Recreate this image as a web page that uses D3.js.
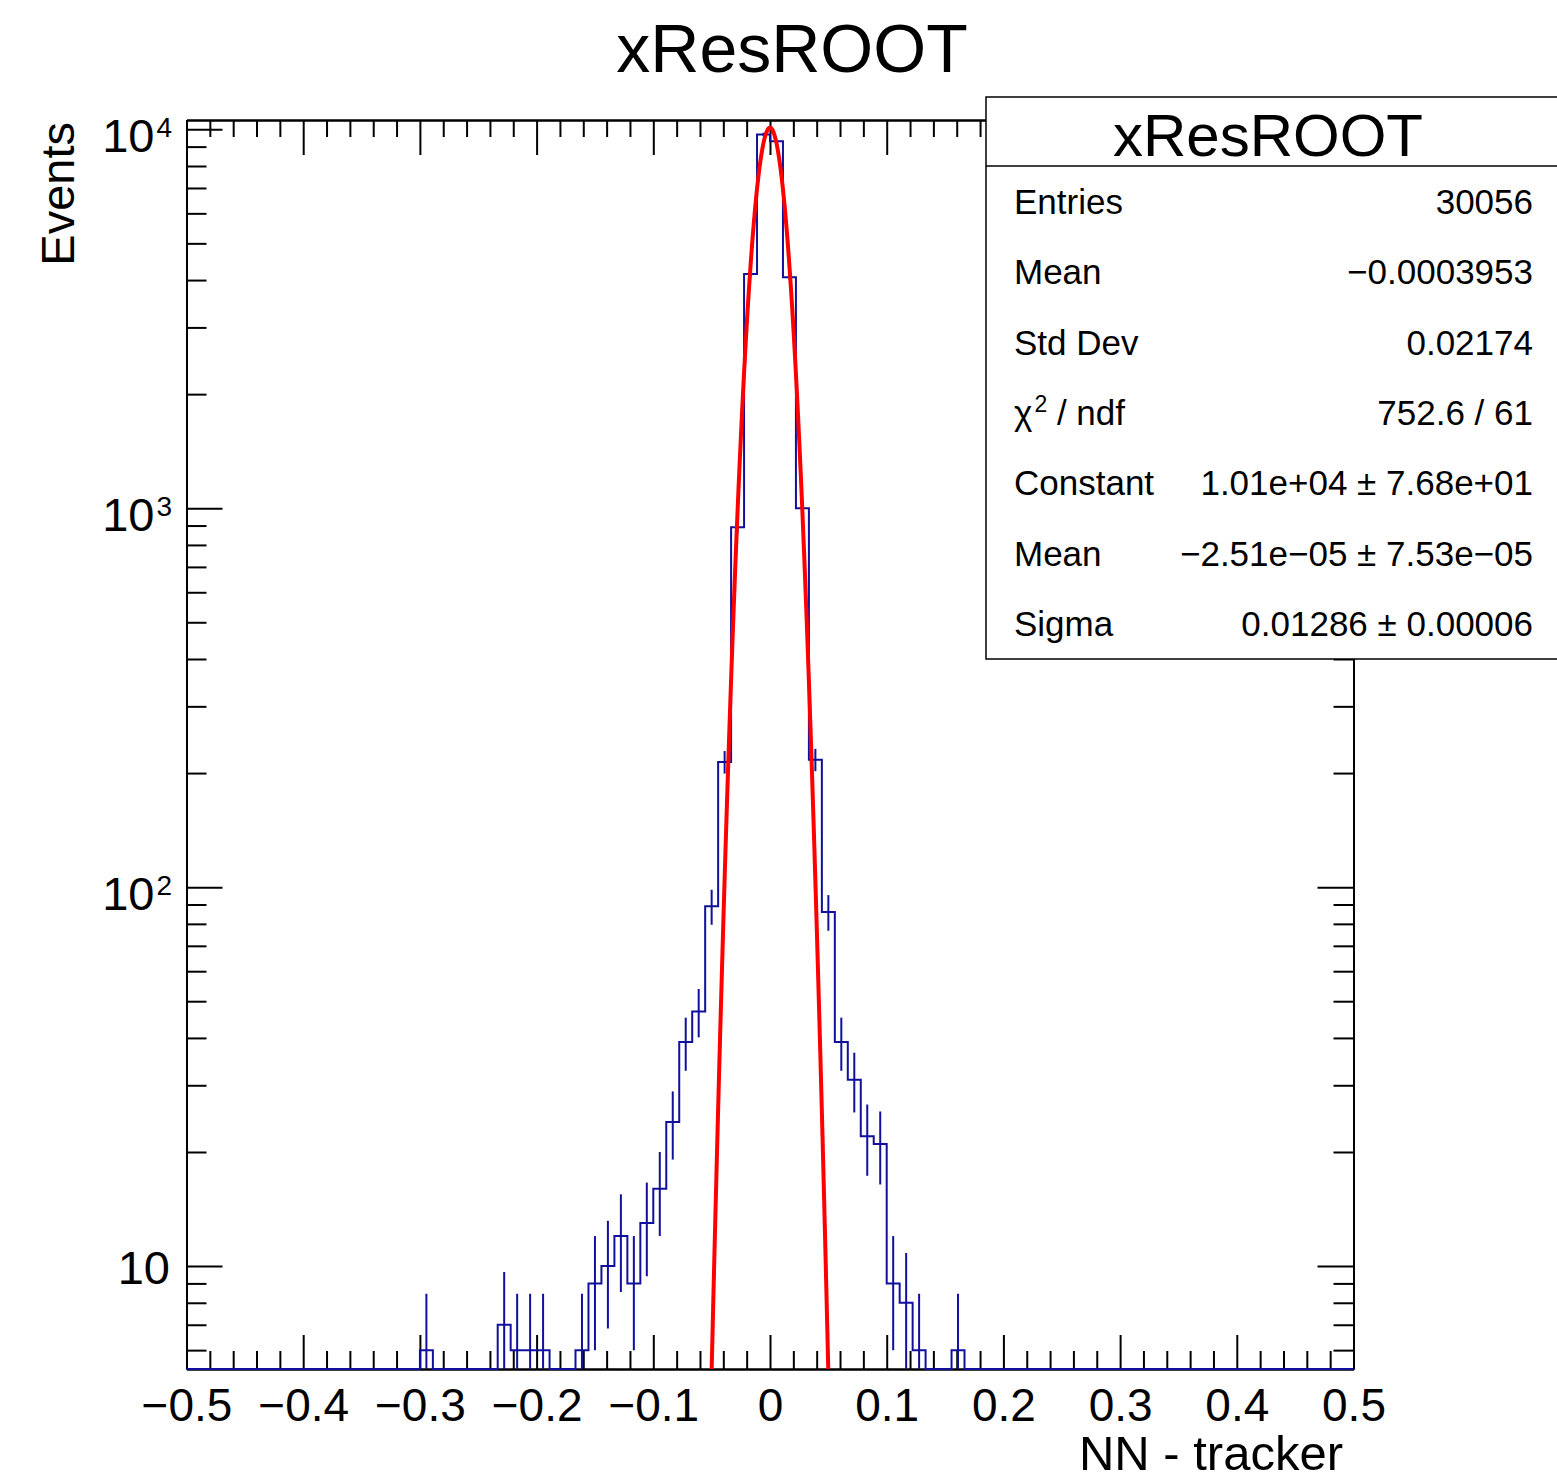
<!DOCTYPE html>
<html>
<head>
<meta charset="utf-8">
<script src="https://cdn.jsdelivr.net/npm/d3@7"></script>
<style>
  body { margin: 0; background: #fff; }
  svg { display: block; }
  text { font-family: "Liberation Sans", Arial, Helvetica, sans-serif; fill: #000; }
</style>
</head>
<body>
<svg id="chart" width="1557" height="1481"></svg>
<script>
// Histogram binning: 90 equal bins on [-0.5, 0.5]
const binLow = -0.5;
const binHigh = 0.5;
const nBins = 90;

// Bin contents (events per bin), bin 0 = leftmost
const counts = [
  0, 0, 0, 0, 0, 0, 0, 0, 0, 0,
  0, 0, 0, 0, 0, 0, 0, 0, 6, 0,
  0, 0, 0, 0, 7, 6, 6, 6, 0, 0,
  6, 9, 10, 12, 9, 13, 16, 24, 39, 47,
  89, 214, 891, 4150, 9690, 9300, 4070, 1000, 217, 86,
  39, 31, 22, 21, 9, 8, 6, 0, 0, 6,
  0, 0, 0, 0, 0, 0, 0, 0, 0, 0,
  0, 0, 0, 0, 0, 0, 0, 0, 0, 0,
  0, 0, 0, 0, 0, 0, 0, 0, 0, 0
];

// Gaussian fit result
const fitConstant = 1.01e4;
const fitMean = -2.51e-5;
const fitSigma = 0.01286;
const fitNpx = 1000;

// Axis ranges and tick labels
const yMin = 5.35;
const yMax = 10580;
const xMajorTicks = [-0.5, -0.4, -0.3, -0.2, -0.1, 0, 0.1, 0.2, 0.3, 0.4, 0.5];
const xTickLabels = ["\u22120.5", "\u22120.4", "\u22120.3", "\u22120.2", "\u22120.1", "0", "0.1", "0.2", "0.3", "0.4", "0.5"];
const yDecades = [10, 100, 1000, 10000];
const yDecadeExponents = ["", "2", "3", "4"];

// Statistics box
const statsTitle = "xResROOT";
const statsLabels = ["Entries", "Mean", "Std Dev", "\u03c7^2 / ndf", "Constant", "Mean", "Sigma"];
const statsValues = ["30056", "\u22120.0003953", "0.02174", "752.6 / 61",
  "1.01e+04 \u00b1 7.68e+01", "\u22122.51e\u221205 \u00b1 7.53e\u221205", "0.01286 \u00b1 0.00006"];

const chartTitle = "xResROOT";
const xTitle = "NN - tracker";
const yTitle = "Events";

// ---- layout ----
const frame = { left: 186.5, right: 1353.5, top: 120, bottom: 1369 };
const svg = d3.select("#chart");

const x = d3.scaleLinear().domain([binLow, binHigh]).range([frame.left, frame.right]);
const y = d3.scaleLog().domain([yMin, yMax]).range([frame.bottom, frame.top]);

const binWidth = (binHigh - binLow) / nBins;
const edge = i => binLow + i * binWidth;

// minor tick positions
const xMinorTicks = d3.range(0, 51).map(i => -0.5 + i * 0.02)
  .filter(v => Math.abs(Math.round(v * 10) - v * 10) > 1e-6);
const yMinorTicks = [];
[1, 10, 100, 1000].forEach(dec => {
  for (let m = 2; m <= 9; m++) {
    const v = m * dec;
    if (v >= yMin && v <= yMax && v !== 10 && v !== 100 && v !== 1000 && v !== 10000) yMinorTicks.push(v);
  }
});

function styleAxis(g) {
  g.attr("font-family", null).attr("font-size", null);
  g.selectAll("path.domain").attr("stroke", "#000").attr("stroke-width", 2);
  g.selectAll(".tick line").attr("stroke", "#000").attr("stroke-width", 2);
}

const axes = svg.append("g");

// bottom axis
axes.append("g").attr("transform", `translate(0,${frame.bottom})`)
  .call(d3.axisBottom(x).tickValues(xMinorTicks).tickSize(-18).tickSizeOuter(0).tickFormat(""))
  .call(styleAxis);
const bottomMajor = axes.append("g").attr("transform", `translate(0,${frame.bottom})`)
  .call(d3.axisBottom(x).tickValues(xMajorTicks).tickSize(-34).tickSizeOuter(0).tickPadding(19)
    .tickFormat((d, i) => xTickLabels[i]))
  .call(styleAxis);
bottomMajor.selectAll(".tick text").attr("font-size", 46).attr("fill", "#000");

// top axis
axes.append("g").attr("transform", `translate(0,${frame.top})`)
  .call(d3.axisTop(x).tickValues(xMinorTicks).tickSize(-17).tickSizeOuter(0).tickFormat(""))
  .call(styleAxis);
axes.append("g").attr("transform", `translate(0,${frame.top})`)
  .call(d3.axisTop(x).tickValues(xMajorTicks).tickSize(-35).tickSizeOuter(0).tickFormat(""))
  .call(styleAxis);

// left axis
axes.append("g").attr("transform", `translate(${frame.left},0)`)
  .call(d3.axisLeft(y).tickValues(yMinorTicks).tickSize(-20).tickSizeOuter(0).tickFormat(""))
  .call(styleAxis);
axes.append("g").attr("transform", `translate(${frame.left},0)`)
  .call(d3.axisLeft(y).tickValues(yDecades).tickSize(-36).tickSizeOuter(0).tickFormat(""))
  .call(styleAxis);

// right axis
axes.append("g").attr("transform", `translate(${frame.right},0)`)
  .call(d3.axisRight(y).tickValues(yMinorTicks).tickSize(-20).tickSizeOuter(0).tickFormat(""))
  .call(styleAxis);
axes.append("g").attr("transform", `translate(${frame.right},0)`)
  .call(d3.axisRight(y).tickValues(yDecades).tickSize(-36).tickSizeOuter(0).tickFormat(""))
  .call(styleAxis);

// decade labels 10, 10^2, 10^3, 10^4
const yLabels = svg.append("g");
yDecades.forEach((d, i) => {
  const exp = yDecadeExponents[i];
  const t = yLabels.append("text")
    .attr("text-anchor", "end")
    .attr("x", exp ? 172 : 170)
    .attr("y", y(d) + (exp ? 22.5 : 17.5))
    .attr("font-size", 47);
  t.append("tspan").text("10");
  if (exp) {
    t.append("tspan").attr("dx", 2).attr("dy", -14.5).attr("font-size", 28).text(exp);
  }
});

// ---- histogram ----
const defs = svg.append("defs");
defs.append("clipPath").attr("id", "frameClip").append("rect")
  .attr("x", frame.left - 1).attr("y", frame.top)
  .attr("width", frame.right - frame.left + 2).attr("height", frame.bottom - frame.top + 1.5);

const plot = svg.append("g").attr("clip-path", "url(#frameClip)");
const yc = v => y(Math.min(Math.max(v, yMin), yMax));

const stepPts = [];
counts.forEach((c, i) => {
  stepPts.push([x(edge(i)), yc(c)]);
  stepPts.push([x(edge(i + 1)), yc(c)]);
});
plot.append("path")
  .attr("d", d3.line()(stepPts))
  .attr("fill", "none")
  .attr("stroke", "#10109c")
  .attr("stroke-width", 2);

// Poisson error bars at bin centres
plot.append("g").selectAll("line")
  .data(counts.map((c, i) => ({ c, i })).filter(d => d.c > 0))
  .join("line")
  .attr("x1", d => x(edge(d.i) + binWidth / 2))
  .attr("x2", d => x(edge(d.i) + binWidth / 2))
  .attr("y1", d => yc(d.c - Math.sqrt(d.c)))
  .attr("y2", d => yc(d.c + Math.sqrt(d.c)))
  .attr("stroke", "#10109c")
  .attr("stroke-width", 2);

// ---- Gaussian fit ----
const fitPts = d3.range(0, fitNpx + 1).map(i => {
  const xv = binLow + i * (binHigh - binLow) / fitNpx;
  const fv = fitConstant * Math.exp(-0.5 * Math.pow((xv - fitMean) / fitSigma, 2));
  return [x(xv), y(Math.max(fv, yMin * 1e-3))];
});
defs.append("clipPath").attr("id", "fitClip").append("rect")
  .attr("x", frame.left).attr("y", frame.top)
  .attr("width", frame.right - frame.left).attr("height", frame.bottom - frame.top);
svg.append("g").attr("clip-path", "url(#fitClip)")
  .append("path")
  .attr("d", d3.line()(fitPts))
  .attr("fill", "none")
  .attr("stroke", "#ff0000")
  .attr("stroke-width", 4)
  .attr("stroke-linejoin", "round");

// ---- titles ----
svg.append("text").attr("x", 792).attr("y", 72).attr("text-anchor", "middle")
  .attr("font-size", 68).text(chartTitle);
svg.append("text").attr("x", 1343).attr("y", 1470).attr("text-anchor", "end")
  .attr("font-size", 49).text(xTitle);
svg.append("text").attr("transform", "translate(74,122) rotate(-90)")
  .attr("text-anchor", "end").attr("font-size", 47).text(yTitle);

// ---- statistics box ----
const box = { left: 986, top: 97, bottom: 659, divider: 166 };
const stats = svg.append("g");
stats.append("rect")
  .attr("x", box.left).attr("y", box.top)
  .attr("width", 620).attr("height", box.bottom - box.top)
  .attr("fill", "#fff").attr("stroke", "#000").attr("stroke-width", 1.5);
stats.append("line")
  .attr("x1", box.left).attr("x2", 1600)
  .attr("y1", box.divider).attr("y2", box.divider)
  .attr("stroke", "#000").attr("stroke-width", 1.5);
stats.append("text").attr("x", 1268).attr("y", 156).attr("text-anchor", "middle")
  .attr("font-size", 60).text(statsTitle);

const rowH = (box.bottom - box.divider) / statsLabels.length;
statsLabels.forEach((lab, i) => {
  const base = box.divider + rowH * (i + 0.5) + 12.5;
  const t = stats.append("text").attr("x", 1014).attr("y", base).attr("font-size", 35);
  const parts = lab.split(/\^(\d)/);
  parts.forEach((p, k) => {
    if (k % 2 === 1) {
      t.append("tspan").attr("dx", 2).attr("dy", -13).attr("font-size", 23).text(p);
    } else if (p) {
      const s = t.append("tspan").text(p);
      if (k > 0) s.attr("dy", 13);
    }
  });
  stats.append("text").attr("x", 1533).attr("y", base).attr("text-anchor", "end")
    .attr("font-size", 35).text(statsValues[i]);
});
</script>
</body>
</html>
